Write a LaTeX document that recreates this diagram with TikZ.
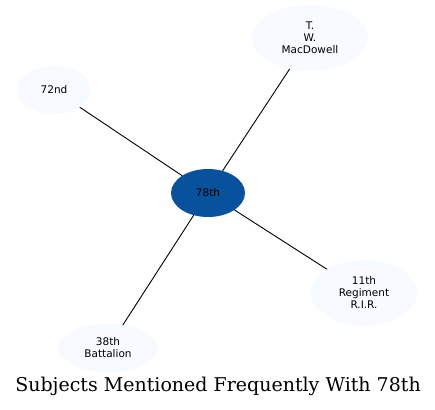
\documentclass[tikz,border=0pt]{standalone}
\usepackage{fontspec}
\newfontfamily\labelfont{DejaVu Sans}
\newfontfamily\titlefont{DejaVu Serif}
\usetikzlibrary{shapes.geometric}
\definecolor{hubblue}{HTML}{08519C}
\definecolor{paleblue}{HTML}{F7FBFF}

\begin{document}
\begin{tikzpicture}[x=1pt,y=-1pt,line width=0.9pt]

  \tikzstyle{every node}=[ellipse,inner sep=0pt,outer sep=0pt,align=center,
                          font=\labelfont\fontsize{10.5}{12}\selectfont]
  \tikzstyle{subject}=[fill=paleblue]
  \tikzstyle{center}=[fill=hubblue]

  \useasboundingbox (0,0) rectangle (435,409);

  \node[center,minimum width=74,minimum height=48]   (S78) at (208,193) {78th};
  \node[subject,minimum width=116,minimum height=66] (TWM) at (310,38)  {T.\\W.\\MacDowell};
  \node[subject,minimum width=74,minimum height=48]  (R72) at (54,90)   {72nd};
  \node[subject,minimum width=106,minimum height=66] (R11) at (364,293) {11th\\Regiment\\R.I.R.};
  \node[subject,minimum width=100,minimum height=48] (B38) at (108,348) {38th\\Battalion};

  \path
  (S78) edge (TWM)
  (S78) edge (R72)
  (S78) edge (R11)
  (S78) edge (B38);

  \node[rectangle,font=\titlefont\fontsize{19}{22}\selectfont] (title) at (218,386)
       {Subjects Mentioned Frequently With 78th};
\end{tikzpicture}
\end{document}
